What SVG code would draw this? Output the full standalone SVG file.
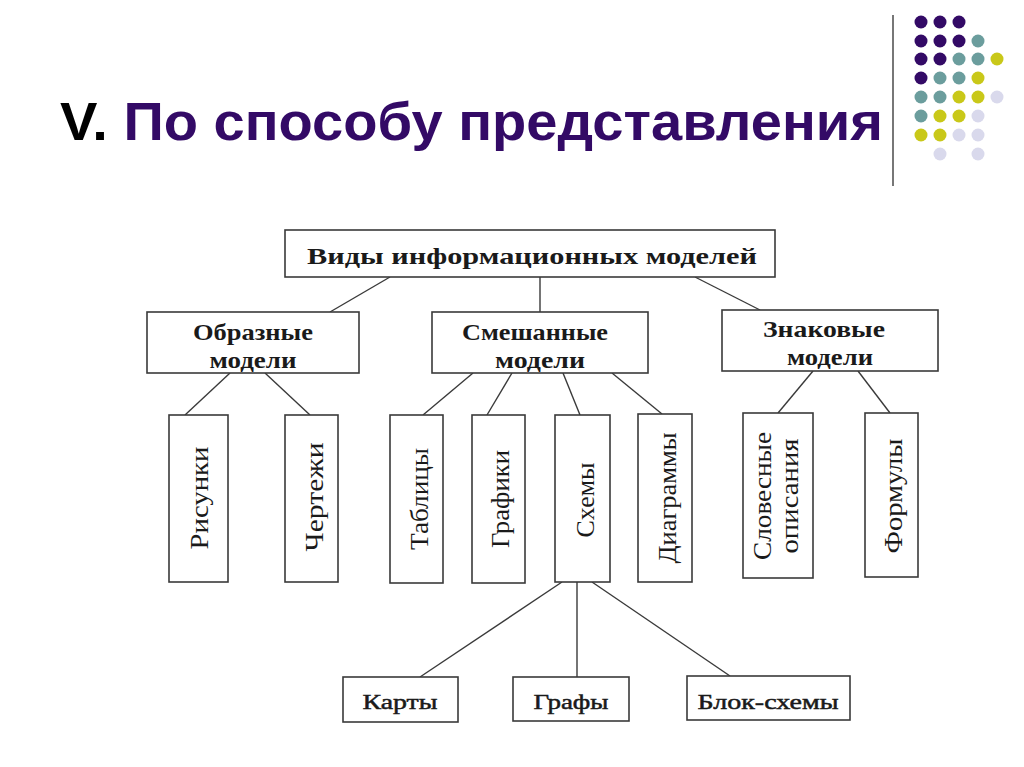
<svg xmlns="http://www.w3.org/2000/svg" width="1024" height="767" viewBox="0 0 1024 767">
<style>
.box{fill:#fff;stroke:#3a3a3a;stroke-width:1.6}
.ln{stroke:#3a3a3a;stroke-width:1.4;fill:none}
.hb{font-family:"Liberation Serif",serif;font-weight:bold;font-size:23px;fill:#1a1a1a;text-anchor:middle}
.vt{font-family:"Liberation Serif",serif;font-size:25px;fill:#1a1a1a;text-anchor:middle}
.lt{font-family:"Liberation Serif",serif;font-size:22px;fill:#1a1a1a;stroke:#1a1a1a;stroke-width:0.5;text-anchor:middle}
.p{fill:#330a66}.t{fill:#6b9d9d}.y{fill:#c9c819}.l{fill:#d9d9ec}
</style>
<rect width="1024" height="767" fill="#fff"/>
<g id="title">
<text x="60" y="140" font-family="Liberation Sans,Arial,sans-serif" font-weight="bold" font-size="54" textLength="823" lengthAdjust="spacingAndGlyphs"><tspan fill="#000">V.</tspan><tspan fill="#330a66"> По способу представления</tspan></text>
</g>
<g id="decor">
<line x1="893" y1="15" x2="893" y2="186" stroke="#777" stroke-width="2"/>
<g>
<circle class="p" cx="921" cy="22" r="6.5"/><circle class="p" cx="940" cy="22" r="6.5"/><circle class="p" cx="959" cy="22" r="6.5"/>
<circle class="p" cx="921" cy="41" r="6.5"/><circle class="p" cx="940" cy="41" r="6.5"/><circle class="p" cx="959" cy="41" r="6.5"/><circle class="t" cx="978" cy="41" r="6.5"/>
<circle class="p" cx="921" cy="59" r="6.5"/><circle class="p" cx="940" cy="59" r="6.5"/><circle class="t" cx="959" cy="59" r="6.5"/><circle class="t" cx="978" cy="59" r="6.5"/><circle class="y" cx="997" cy="59" r="6.5"/>
<circle class="p" cx="921" cy="78" r="6.5"/><circle class="t" cx="940" cy="78" r="6.5"/><circle class="t" cx="959" cy="78" r="6.5"/><circle class="y" cx="978" cy="78" r="6.5"/>
<circle class="t" cx="921" cy="97" r="6.5"/><circle class="t" cx="940" cy="97" r="6.5"/><circle class="y" cx="959" cy="97" r="6.5"/><circle class="y" cx="978" cy="97" r="6.5"/><circle class="l" cx="997" cy="97" r="6.5"/>
<circle class="t" cx="921" cy="116" r="6.5"/><circle class="y" cx="940" cy="116" r="6.5"/><circle class="y" cx="959" cy="116" r="6.5"/><circle class="l" cx="978" cy="116" r="6.5"/>
<circle class="y" cx="921" cy="135" r="6.5"/><circle class="y" cx="940" cy="135" r="6.5"/><circle class="l" cx="959" cy="135" r="6.5"/><circle class="l" cx="978" cy="135" r="6.5"/>
<circle class="l" cx="940" cy="154" r="6.5"/><circle class="l" cx="978" cy="154" r="6.5"/>
</g>
</g>
<g id="connectors">
<line class="ln" x1="390" y1="277" x2="330" y2="312"/>
<line class="ln" x1="540" y1="277" x2="540" y2="312"/>
<line class="ln" x1="695" y1="277" x2="760" y2="310"/>
<line class="ln" x1="230" y1="373" x2="185" y2="415"/>
<line class="ln" x1="265" y1="373" x2="310" y2="415"/>
<line class="ln" x1="473" y1="373" x2="423" y2="415"/>
<line class="ln" x1="512" y1="373" x2="487" y2="415"/>
<line class="ln" x1="563" y1="373" x2="580" y2="415"/>
<line class="ln" x1="612" y1="373" x2="662" y2="414"/>
<line class="ln" x1="813" y1="371" x2="778" y2="413"/>
<line class="ln" x1="858" y1="371" x2="890" y2="413"/>
<line class="ln" x1="562" y1="582" x2="420" y2="677"/>
<line class="ln" x1="577" y1="582" x2="577" y2="677"/>
<line class="ln" x1="592" y1="582" x2="730" y2="676"/>
</g>
<g id="n-root"><rect class="box" x="285" y="230" width="490" height="47"/><text class="hb" x="532" y="264" textLength="450" lengthAdjust="spacingAndGlyphs">Виды информационных моделей</text></g>
<g id="n-obraz"><rect class="box" x="147" y="312" width="212" height="61"/><text class="hb" x="253" y="340" textLength="120" lengthAdjust="spacingAndGlyphs">Образные</text><text class="hb" x="253" y="368" textLength="87" lengthAdjust="spacingAndGlyphs">модели</text></g>
<g id="n-smesh"><rect class="box" x="432" y="312" width="216" height="61"/><text class="hb" x="535" y="340" textLength="146" lengthAdjust="spacingAndGlyphs">Смешанные</text><text class="hb" x="540" y="368" textLength="90" lengthAdjust="spacingAndGlyphs">модели</text></g>
<g id="n-znak"><rect class="box" x="722" y="310" width="216" height="61"/><text class="hb" x="824" y="337" textLength="122" lengthAdjust="spacingAndGlyphs">Знаковые</text><text class="hb" x="830" y="365" textLength="86" lengthAdjust="spacingAndGlyphs">модели</text></g>
<g id="n-risunki"><rect class="box" x="169" y="415" width="59" height="167"/><text class="vt" transform="translate(208,498) rotate(-90)" textLength="103" lengthAdjust="spacingAndGlyphs">Рисунки</text></g>
<g id="n-chertezhi"><rect class="box" x="285" y="415" width="53" height="167"/><text class="vt" transform="translate(323,497) rotate(-90)" textLength="109" lengthAdjust="spacingAndGlyphs">Чертежи</text></g>
<g id="n-tablicy"><rect class="box" x="390" y="415" width="53" height="168"/><text class="vt" transform="translate(428,499) rotate(-90)" textLength="102" lengthAdjust="spacingAndGlyphs">Таблицы</text></g>
<g id="n-grafiki"><rect class="box" x="472" y="415" width="53" height="168"/><text class="vt" transform="translate(509,499) rotate(-90)" textLength="98" lengthAdjust="spacingAndGlyphs">Графики</text></g>
<g id="n-shemy"><rect class="box" x="555" y="415" width="55" height="167"/><text class="vt" transform="translate(594,500) rotate(-90)" textLength="75" lengthAdjust="spacingAndGlyphs">Схемы</text></g>
<g id="n-diagrammy"><rect class="box" x="638" y="414" width="54" height="168"/><text class="vt" transform="translate(676,498) rotate(-90)" textLength="131" lengthAdjust="spacingAndGlyphs">Диаграммы</text></g>
<g id="n-slovesnye"><rect class="box" x="743" y="413" width="70" height="165"/><text class="vt" transform="translate(771,496) rotate(-90)" textLength="128" lengthAdjust="spacingAndGlyphs">Словесные</text><text class="vt" transform="translate(798,496) rotate(-90)" textLength="115" lengthAdjust="spacingAndGlyphs">описания</text></g>
<g id="n-formuly"><rect class="box" x="865" y="413" width="53" height="164"/><text class="vt" transform="translate(902,496) rotate(-90)" textLength="115" lengthAdjust="spacingAndGlyphs">Формулы</text></g>
<g id="n-karty"><rect class="box" x="343" y="677" width="115" height="45"/><text class="lt" x="400" y="709" textLength="75" lengthAdjust="spacingAndGlyphs">Карты</text></g>
<g id="n-grafy"><rect class="box" x="513" y="677" width="116" height="44"/><text class="lt" x="571" y="709" textLength="75" lengthAdjust="spacingAndGlyphs">Графы</text></g>
<g id="n-blok"><rect class="box" x="687" y="676" width="163" height="44"/><text class="lt" x="768" y="709" textLength="141" lengthAdjust="spacingAndGlyphs">Блок-схемы</text></g>
</svg>
